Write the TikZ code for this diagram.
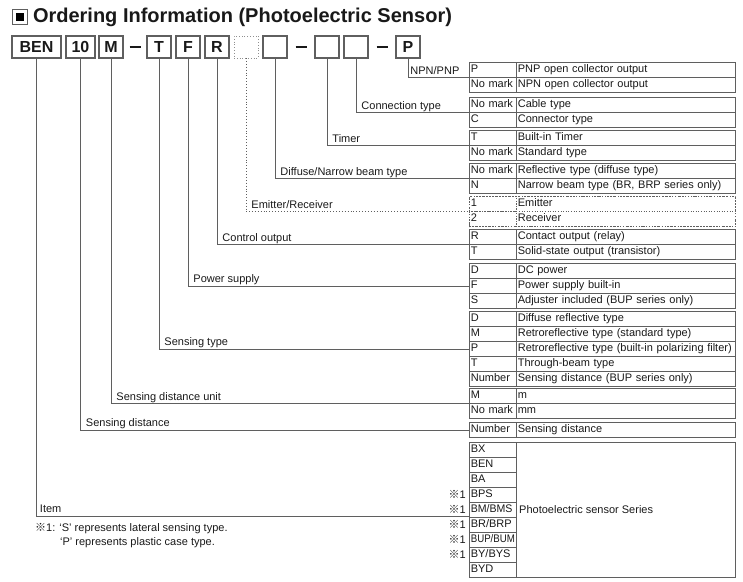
\documentclass[tikz,border=0pt]{standalone}
\usepackage{fontspec}
\setmainfont{Liberation Sans}
\newfontfamily\cjk{Noto Sans CJK JP}
\usepackage{graphicx}
\usepackage{xcolor}
\usepackage{tikz}
\usetikzlibrary{positioning,calc}
\definecolor{linegray}{RGB}{95,95,95}
\definecolor{textblack}{RGB}{25,25,25}
\newcommand{\tabfont}{\fontsize{11}{13}\selectfont}
\tikzset{
  code-box/.style={draw=linegray, line width=1.1pt, minimum width=24pt,
    minimum height=22pt, inner sep=0pt, outer sep=0pt, text=textblack,
    font=\fontsize{16}{18}\selectfont\bfseries},
  open-box/.style={code-box, draw=linegray!70, line width=0.8pt, dotted},
  dash-mark/.style={line width=1.8pt, draw=textblack},
  leader/.style={draw=linegray, line width=0.9pt},
  leader-label/.style={pos=0.5, anchor=base west, inner sep=0pt, xshift=5pt,
    yshift=3.5pt, font=\tabfont, text=textblack},
  code-cell/.style={draw=linegray, line width=0.6pt, anchor=north west,
    text width=44pt, align=left, inner xsep=1.5pt, inner ysep=0pt,
    minimum height=15pt, text height=8.2pt, text depth=2.3pt,
    font=\tabfont, text=textblack},
  desc-cell/.style={code-cell, text width=216pt},
  group-box/.style={draw=linegray, line width=1.2pt, inner sep=0pt},
  note-text/.style={anchor=base west, inner sep=0pt, font=\tabfont, text=textblack},
  mark-text/.style={anchor=east, inner sep=0pt, font=\tabfont, text=textblack}
}
% one block of the option table: [style]{name}{top}{rows}{code/text list}
\newcommand{\optiongroup}[5][]{%
  \foreach \code/\desc [count=\i] in {#5}{%
    \node[code-cell,#1] (#2-c\i) at (469,{#3+15*(\i-1)}) {\code};
    \node[desc-cell,#1] (#2-d\i) at (516,{#3+15*(\i-1)}) {\desc};
  }
  \node[group-box,#1,minimum width=266pt,minimum height=#4*15pt,anchor=north west] (#2) at (469,#3) {};
}
\newcommand{\refmark}{{\cjk ※}1}

\begin{document}
\begin{tikzpicture}[x=1pt, y=-1pt, node distance=5pt]
\useasboundingbox (0,0) rectangle (743,581);

% Heading
\node[draw=linegray, line width=0.8pt, minimum size=15pt, inner sep=0pt, anchor=north west] (title-mark) at (12,9) {};
\node[fill=black, minimum size=8pt, inner sep=0pt] (title-dot) at (title-mark) {};
\node[right=5pt of title-mark, inner sep=0pt, font=\fontsize{20}{24}\selectfont\bfseries, text=textblack] (title)
  {Ordering Information (Photoelectric Sensor)};

% Model code boxes
\node[code-box, minimum width=49pt, anchor=north west] (b-ben) at (12,36) {BEN};
\node[code-box, minimum width=29pt, right=of b-ben] (b-dist) {10};
\node[code-box, right=4pt of b-dist] (b-unit) {M};
\node[code-box, right=24pt of b-unit] (b-type) {T};
\node[code-box, right=of b-type] (b-power) {F};
\node[code-box, right=of b-power] (b-out) {R};
\node[open-box, right=of b-out] (b-emit) {};
\node[code-box, right=of b-emit] (b-beam) {};
\node[code-box, right=28pt of b-beam] (b-timer) {};
\node[code-box, right=of b-timer] (b-conn) {};
\node[code-box, right=28pt of b-conn] (b-npn) {P};

% Dashes between the boxes
\draw[dash-mark] ($(b-unit.east)!0.5!(b-type.west)+(-5.5,0)$) -- ($(b-unit.east)!0.5!(b-type.west)+(5.5,0)$);
\draw[dash-mark] ($(b-beam.east)!0.5!(b-timer.west)+(-5.5,0)$) -- ($(b-beam.east)!0.5!(b-timer.west)+(5.5,0)$);
\draw[dash-mark] ($(b-conn.east)!0.5!(b-npn.west)+(-5.5,0)$) -- ($(b-conn.east)!0.5!(b-npn.west)+(5.5,0)$);

% Option table
\optiongroup{npn}{62}{2}{P/PNP open collector output, No mark/NPN open collector output}
\optiongroup{conn}{97}{2}{No mark/Cable type, C/Connector type}
\optiongroup{timer}{130}{2}{T/Built-in Timer, No mark/Standard type}
\optiongroup{beam}{163}{2}{No mark/Reflective type (diffuse type), N/{Narrow beam type (BR, BRP series only)}}
\optiongroup[dotted]{emit}{196}{2}{1/Emitter, 2/Receiver}
\optiongroup{out}{229}{2}{R/Contact output (relay), T/Solid-state output (transistor)}
\optiongroup{power}{263}{3}{D/DC power, F/Power supply built-in, S/Adjuster included (BUP series only)}
\optiongroup{type}{311}{5}{D/Diffuse reflective type, M/Retroreflective type (standard type),
  P/Retroreflective type (built-in polarizing filter), T/Through-beam type,
  Number/Sensing distance (BUP series only)}
\optiongroup{unit}{388}{2}{M/m, No mark/mm}
\optiongroup{dist}{422}{1}{Number/Sensing distance}

% Series block
\foreach \code [count=\i] in {BX,BEN,BA,BPS,{\scalebox{0.96}[1]{BM/BMS}},BR/BRP,{\scalebox{0.88}[1]{BUP/BUM}},BY/BYS,BYD}{
  \node[code-cell] (item-c\i) at (469,{442+15*(\i-1)}) {\code};
}
\node[group-box, minimum width=266pt, minimum height=135pt, anchor=north west] (item) at (469,442) {};
\node[anchor=west, inner sep=0pt, font=\tabfont, text=textblack] (item-d) at (519,509.5) {Photoelectric sensor Series};
\foreach \i in {4,...,8}{
  \node[mark-text] (item-m\i) at ($(item-c\i.west)+(-3,0)$) {\refmark};
}
\coordinate (item-in) at (469,516);

% Leaders
\draw[leader] (b-npn.south) |- node[leader-label, xshift=-3pt] {NPN/PNP} (npn.west);
\draw[leader] (b-conn.south) |- node[leader-label] {Connection type} (conn.west);
\draw[leader] (b-timer.south) |- node[leader-label] {Timer} (timer.west);
\draw[leader] (b-beam.south) |- node[leader-label] {Diffuse/Narrow beam type} (beam.west);
\draw[leader, dotted] (b-emit.south) |- node[leader-label] {Emitter/Receiver} (emit.west);
\draw[leader] (b-out.south) |- node[leader-label] {Control output} (out.west);
\draw[leader] (b-power.south) |- node[leader-label] {Power supply} (power.west);
\draw[leader] (b-type.south) |- node[leader-label] {Sensing type} (type.west);
\draw[leader] (b-unit.south) |- node[leader-label] {Sensing distance unit} (unit.west);
\draw[leader] (b-dist.south) |- node[leader-label] {Sensing distance} (dist.west);
\draw[leader] (b-ben.south) |- node[leader-label, xshift=-2pt] {Item} (item-in);

% Footnote
\node[note-text] (note-s) at (35,531) {\refmark: ‘S’ represents lateral sensing type.};
\node[note-text] (note-p) at (60,545) {‘P’ represents plastic case type.};
\end{tikzpicture}
\end{document}
